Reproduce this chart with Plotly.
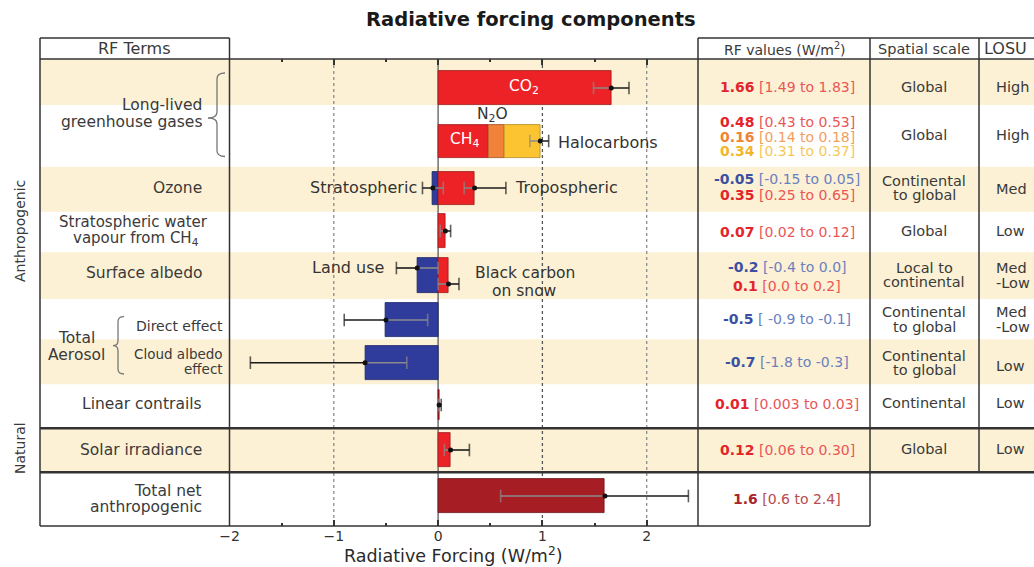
import plotly.graph_objects as go

W, H = 1034, 567
FONT = "DejaVu Sans"
TXT = "#3a3a3a"
LINE = "#333333"
BAND = "#FCF1D4"

# ---------------- data ----------------
terms = ["CO2", "CH4", "N2O", "Halocarbons", "Stratospheric ozone", "Tropospheric ozone",
         "Stratospheric water vapour from CH4", "Land use", "Black carbon on snow",
         "Aerosol direct effect", "Cloud albedo effect", "Linear contrails",
         "Solar irradiance", "Total net anthropogenic"]
rf_value = [1.66, 0.48, 0.16, 0.34, -0.05, 0.35, 0.07, -0.2, 0.1, -0.5, -0.7, 0.01, 0.12, 1.6]
rf_low = [1.49, 0.43, 0.14, 0.31, -0.15, 0.25, 0.02, -0.4, 0.0, -0.9, -1.8, 0.003, 0.06, 0.6]
rf_high = [1.83, 0.53, 0.18, 0.37, 0.05, 0.65, 0.12, 0.0, 0.2, -0.1, -0.3, 0.03, 0.30, 2.4]
rf_value_text = ["1.66", "0.48", "0.16", "0.34", "-0.05", "0.35", "0.07", "-0.2", "0.1",
                 "-0.5", "-0.7", "0.01", "0.12", "1.6"]
rf_range_text = ["[1.49 to 1.83]", "[0.43 to 0.53]", "[0.14 to 0.18]", "[0.31 to 0.37]",
                 "[-0.15 to 0.05]", "[0.25 to 0.65]", "[0.02 to 0.12]", "[-0.4 to 0.0]",
                 "[0.0 to 0.2]", "[ -0.9 to -0.1]", "[-1.8 to -0.3]", "[0.003 to 0.03]",
                 "[0.06 to 0.30]", "[0.6 to 2.4]"]
ghg_stack_range = [0.88, 1.06]   # uncertainty drawn at the tip of the CH4+N2O+halocarbon stack
err_terms = [0, 4, 5, 6, 7, 8, 9, 10, 11, 12, 13]

spatial_scale = [["Global"], ["Global"], ["Continental", "to global"], ["Global"],
                 ["Local to", "continental"], ["Continental", "to global"],
                 ["Continental", "to global"], ["Continental"], ["Global"]]
losu = [["High"], ["High"], ["Med"], ["Low"], ["Med", "-Low"], ["Med", "-Low"],
        ["Low"], ["Low"], ["Low"]]
x_ticks = [-2, -1, 0, 1, 2]

# ---------------- layout helpers (pixel positions / styles) ----------------
bar_y = [88, 141, 141, 141, 188, 188, 231, 275.5, 275.5, 320, 362.5, 405, 450, 496]
bar_h = [34, 33, 33, 33, 33, 33, 34, 35, 35, 34, 34, 30, 34, 34]
err_y = [88, 141, 141, 141, 188, 188, 231, 268, 284, 320, 362.7, 405, 450, 496]
text_y = [87.3, 121.7, 136.7, 150.7, 179.3, 195, 232.3, 266.7, 285.7, 319, 361.7, 404.3, 450, 499]
group_y = [[87.3], [135], [180.7, 194.5], [230.7], [267.7, 282], [312.3, 326.5],
           [356, 370], [403.3], [449.3]]
losu_y = [[87.3], [135], [189.3], [230.7], [267.7, 282.5], [312.3, 327],
          [365.7], [403.3], [449.3]]

RED, ORG, YEL, BLU, DRED = "#EC2226", "#F0823A", "#FBC430", "#2F3C9C", "#A61E24"
bar_color = [RED, RED, ORG, YEL, BLU, RED, RED, BLU, RED, BLU, BLU, RED, RED, DRED]
edge_color = ["#9a1a1a", "#9a1a1a", "#a0521e", "#b08a20", "#1d2466", "#9a1a1a", "#9a1a1a",
              "#1d2466", "#9a1a1a", "#1d2466", "#1d2466", "#5a1010", "#9a1a1a", "#6a1014"]
txt_bold = {RED: "#E3242A", ORG: "#EE8434", YEL: "#F2B62C", BLU: "#3B50A3", DRED: "#A8252B"}
txt_light = {RED: "#EA5656", ORG: "#F29E5E", YEL: "#F5C85A", BLU: "#6B80C0", DRED: "#B94C50"}

# stacked bases for CH4 / N2O / halocarbons
bar_base = [0.0] * len(terms)
bar_base[2] = rf_value[1]
bar_base[3] = rf_value[1] + rf_value[2]

X0_PX, X_UNIT = 438.1, 104.3
x_left = -2.0
x_right = (698 - X0_PX) / X_UNIT


def px(x):
    return x / W


def py(y):
    return 1 - y / H


fig = go.Figure()

fig.add_trace(go.Bar(
    x=rf_value, base=bar_base, y=bar_y, width=bar_h, orientation="h",
    marker=dict(color=bar_color, line=dict(color=edge_color, width=0.8)),
    hoverinfo="skip", showlegend=False))

# error bars: inner part (towards zero) gray, outer part black
gx, gy, gs, bx, by, bs, dx, dy = [], [], [], [], [], [], [], []
err_items = [(rf_value[i], rf_low[i], rf_high[i], err_y[i]) for i in err_terms]
stack_total = rf_value[1] + rf_value[2] + rf_value[3]
err_items.append((stack_total, ghg_stack_range[0], ghg_stack_range[1], err_y[3]))
for v, lo, hi, yy in err_items:
    inner, outer = (lo, hi) if v >= 0 else (hi, lo)
    gx += [inner, v, None]; gy += [yy, yy, None]; gs += [9, 0, 0]
    bx += [v, outer, None]; by += [yy, yy, None]; bs += [0, 9, 0]
    dx.append(v); dy.append(yy)

fig.add_trace(go.Scatter(x=gx, y=gy, mode="lines+markers", line=dict(color="#8a8a8a", width=1.6),
                         marker=dict(symbol="line-ns-open", size=gs, color="#8a8a8a",
                                     line=dict(width=1.6, color="#8a8a8a")),
                         hoverinfo="skip", showlegend=False, cliponaxis=False))
fig.add_trace(go.Scatter(x=bx, y=by, mode="lines+markers", line=dict(color="#1a1a1a", width=1.6),
                         marker=dict(symbol="line-ns-open", size=bs, color="#1a1a1a",
                                     line=dict(width=1.6, color="#1a1a1a")),
                         hoverinfo="skip", showlegend=False, cliponaxis=False))
fig.add_trace(go.Scatter(x=dx, y=dy, mode="markers", marker=dict(size=5, color="#111"),
                         hoverinfo="skip", showlegend=False))

shapes = []
# beige bands
for y0, y1 in [(59, 105), (166.7, 211.7), (252.3, 299), (339.3, 384.3), (428.3, 472.3)]:
    shapes.append(dict(type="rect", xref="paper", yref="paper", x0=px(40), x1=px(1034),
                       y0=py(y1), y1=py(y0), fillcolor=BAND, line=dict(width=0), layer="below"))
# grid lines
for gxv, col, dash in [(-1, "#8c8c8c", "dot"), (1, "#555555", "3px,3px"), (2, "#8c8c8c", "dot")]:
    shapes.append(dict(type="line", xref="x", yref="paper", x0=gxv, x1=gxv, y0=py(59), y1=py(526),
                       line=dict(color=col, width=1.3, dash=dash), layer="below"))
shapes.append(dict(type="line", xref="x", yref="paper", x0=0, x1=0, y0=py(59), y1=py(526),
                   line=dict(color="#666666", width=1.4), layer="below"))


def hline(y, x0, x1, w=1.5):
    shapes.append(dict(type="line", xref="paper", yref="paper", x0=px(x0), x1=px(x1),
                       y0=py(y), y1=py(y), line=dict(color=LINE, width=w)))


def vline(x, y0, y1, w=1.5):
    shapes.append(dict(type="line", xref="paper", yref="paper", x0=px(x), x1=px(x),
                       y0=py(y0), y1=py(y1), line=dict(color=LINE, width=w)))


hline(38, 40, 229.5)
hline(38, 698, 1034)
hline(59, 40, 1034)
hline(428.3, 40, 1034, 2.6)
hline(472.3, 40, 1034, 2.6)
hline(526, 40, 870)
vline(40, 38, 526)
vline(229.5, 38, 526)
vline(698, 38, 526)
vline(870, 38, 526)
vline(979, 38, 472.3)


def brace(xe, xs, xt, yt, ym, yb, r=6):
    pts = lambda x, y: f"{px(x):.5f},{py(y):.5f}"
    path = (f"M {pts(xe, yt)} Q {pts(xs, yt)} {pts(xs, yt + r)} L {pts(xs, ym - r)} "
            f"Q {pts(xs, ym)} {pts(xt, ym)} Q {pts(xs, ym)} {pts(xs, ym + r)} "
            f"L {pts(xs, yb - r)} Q {pts(xs, yb)} {pts(xe, yb)}")
    shapes.append(dict(type="path", xref="paper", yref="paper", path=path,
                       line=dict(color="#777777", width=1.3)))


brace(225, 217, 208, 73, 118, 156.5)
brace(124, 118, 113, 316.7, 345.7, 374, r=5)

ann = []


def text(t, x, y, size=15, color=TXT, xanchor="center", angle=0, family=FONT):
    ann.append(dict(text=t, x=px(x), y=py(y), xref="paper", yref="paper", showarrow=False,
                    xanchor=xanchor, yanchor="middle", textangle=angle,
                    font=dict(family=family, size=size, color=color)))


# title and axis title
text("<b>Radiative forcing components</b>", 531, 19, size=19.5, color="#1a1a1a")
text("Radiative Forcing (W/m<sup>2</sup>)", 453, 555, size=17.5, color="#2a2a2a")

# headers
text("RF Terms", 134, 48.5, size=16)
text("RF values (W/m<sup>2</sup>)", 785, 49, size=14)
text("Spatial scale", 924, 49, size=14.5)
text("LOSU", 982, 49, size=16, xanchor="left")

# rotated group labels
text("Anthropogenic", 20, 231, size=14, angle=-90)
text("Natural", 20, 448, size=14, angle=-90)

# left table labels
LS = 15.5
text("Long-lived", 204, 105, size=LS, xanchor="right")
text("greenhouse gases", 204, 121.5, size=LS, xanchor="right")
text("Ozone", 204, 188, size=LS, xanchor="right")
text("Stratospheric water", 133, 221.5, size=15)
text("vapour from CH<sub>4</sub>", 136, 238, size=15)
text("Surface albedo", 204, 273, size=LS, xanchor="right")
text("Total", 76, 338, size=LS)
text("Aerosol", 76, 354.5, size=LS)
text("Direct effect", 225, 325.7, size=14, xanchor="right")
text("Cloud albedo", 225, 354, size=13.5, xanchor="right")
text("effect", 225, 368.5, size=13.5, xanchor="right")
text("Linear contrails", 204, 404, size=LS, xanchor="right")
text("Solar irradiance", 204, 450, size=LS, xanchor="right")
text("Total net", 204, 491, size=LS, xanchor="right")
text("anthropogenic", 204, 507, size=LS, xanchor="right")

# in-plot labels
text("CO<sub>2</sub>", 524, 87.3, size=15.5, color="white")
text("N<sub>2</sub>O", 492, 115, size=15.5, color="#333")
text("CH<sub>4</sub>", 464, 140, size=15.5, color="white")
text("Halocarbons", 556, 142, size=16, xanchor="left", color="#333")
text("Stratospheric", 419, 187, size=16, xanchor="right", color="#333")
text("Tropospheric", 513, 187.5, size=16, xanchor="left", color="#333")
text("Land use", 386, 267.7, size=16, xanchor="right", color="#333")
text("Black carbon", 525, 273, size=15.5, color="#333")
text("on snow", 524, 291, size=15.5, color="#333")

# RF values column
for i in range(len(terms)):
    c = bar_color[i]
    t = (f"<b><span style='color:{txt_bold[c]}'>{rf_value_text[i]}</span></b> "
         f"<span style='color:{txt_light[c]}'>{rf_range_text[i]}</span>")
    text(t, 787, text_y[i], size=14, color=txt_light[c])

# spatial scale and LOSU columns
for lines, ys in zip(spatial_scale, group_y):
    for s, yy in zip(lines, ys):
        text(s, 924, yy, size=14.5)
for lines, ys in zip(losu, losu_y):
    for s, yy in zip(lines, ys):
        text(s, 994, yy, size=14.5, xanchor="left")

fig.update_layout(
    width=W, height=H, autosize=False,
    margin=dict(l=0, r=0, t=0, b=0, pad=0, autoexpand=False),
    paper_bgcolor="white", plot_bgcolor="rgba(0,0,0,0)",
    barmode="overlay", bargap=0, showlegend=False,
    shapes=shapes, annotations=ann,
    xaxis=dict(domain=[px(229.5), px(698)], range=[x_left, x_right], anchor="y",
               tickvals=x_ticks, ticks="inside", ticklen=6, tickwidth=1.5, tickcolor=LINE,
               mirror="ticks", showline=False, showgrid=False, zeroline=False,
               automargin=False,
               tickfont=dict(family=FONT, size=14, color="#333"),
               minor=dict(dtick=0.5, ticks="inside", ticklen=3, tickwidth=1.5, tickcolor=LINE,
                          showgrid=False),
               fixedrange=True),
    yaxis=dict(domain=[1 - 526 / H, 1 - 59 / H], range=[526, 59], visible=False,
               automargin=False, fixedrange=True),
)

fig.write_html("out.html", config={"displayModeBar": False, "responsive": False},
               post_script="document.body.style.margin='0';document.body.style.overflow='hidden';")
